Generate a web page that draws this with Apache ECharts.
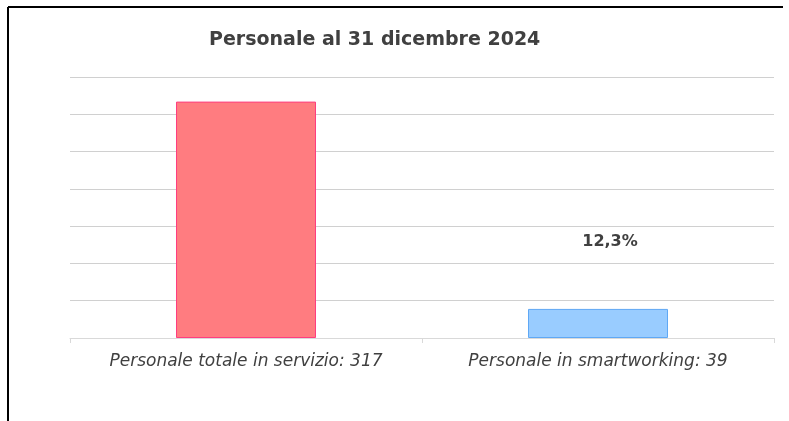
<!DOCTYPE html>
<html>
<head>
<meta charset="utf-8">
<script src="https://cdn.jsdelivr.net/npm/echarts@6/dist/echarts.min.js"></script>
<style>
  html, body { margin: 0; padding: 0; background: #fff; }
  #main { width: 789px; height: 421px; }
</style>
</head>
<body>
<div id="main"></div>
<script>
// dati del grafico
var categories = ['Personale totale in servizio: 317', 'Personale in smartworking: 39'];
var values = [317, 39];
var barColors = ['#ff7c80', '#99ccff'];
var barBorders = ['#ff3d7f', '#5fa8f5'];
var shareLabel = '12,3%';

var chart = echarts.init(document.getElementById('main'));

var option = {
  backgroundColor: '#fff',
  animation: false,
  title: {
    text: 'Personale al 31 dicembre 2024',
    left: 204,
    top: 26,
    textStyle: {
      fontFamily: 'DejaVu Sans',
      fontWeight: 'bold',
      fontSize: 19,
      color: '#404040'
    }
  },
  grid: {
    left: 70,
    right: 15,
    top: 77,
    bottom: 83
  },
  xAxis: {
    type: 'category',
    data: categories,
    axisLine: { lineStyle: { color: '#d9d9d9', width: 1 } },
    axisTick: { show: true, interval: 0, length: 5, lineStyle: { color: '#d9d9d9' } },
    axisLabel: {
      interval: 0,
      fontFamily: 'DejaVu Sans',
      fontStyle: 'italic',
      fontSize: 17,
      color: '#404040',
      margin: 15
    }
  },
  yAxis: {
    type: 'value',
    min: 0,
    max: 350,
    interval: 50,
    axisLabel: { show: false },
    axisLine: { show: false },
    axisTick: { show: false },
    splitLine: { lineStyle: { color: '#d0d0d0', width: 1 } }
  },
  series: [{
    type: 'bar',
    barWidth: 140,
    data: values.map(function (v, i) {
      var item = {
        value: v,
        itemStyle: { color: barColors[i], borderColor: barBorders[i], borderWidth: 1 }
      };
      if (i === 1) {
        item.label = {
          show: true,
          position: 'top',
          formatter: shareLabel,
          offset: [12, -54],
          fontFamily: 'DejaVu Sans',
          fontWeight: 'bold',
          fontSize: 16,
          color: '#404040'
        };
      }
      return item;
    })
  }],
  graphic: [
    { type: 'line', shape: { x1: 8, y1: 7, x2: 783, y2: 7 }, style: { stroke: '#000', lineWidth: 2 } },
    { type: 'line', shape: { x1: 8, y1: 7, x2: 8, y2: 421 }, style: { stroke: '#000', lineWidth: 2 } }
  ]
};

chart.setOption(option);
</script>
</body>
</html>
